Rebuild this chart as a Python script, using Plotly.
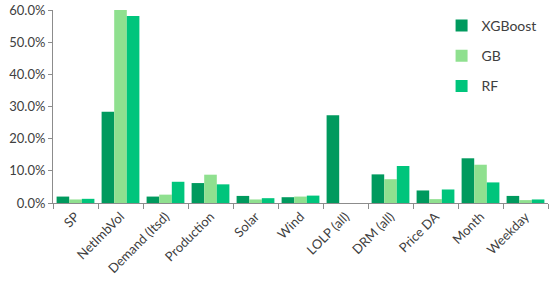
import plotly.graph_objects as go

categories = ["SP", "NetImbVol", "Demand (Itsd)", "Production", "Solar", "Wind",
              "LOLP (all)", "DRM (all)", "Price DA", "Month", "Weekday"]
xgboost = [2.0, 28.4, 2.0, 6.2, 2.2, 1.8, 27.3, 8.9, 3.9, 13.9, 2.2]
gb = [1.1, 60.2, 2.6, 8.8, 1.1, 2.0, 0.0, 7.4, 1.2, 11.9, 0.9]
rf = [1.3, 58.1, 6.6, 5.8, 1.5, 2.3, 0.0, 11.5, 4.2, 6.4, 1.1]
yticks = [0, 10, 20, 30, 40, 50, 60]
ytick_labels = ["0.0%", "10.0%", "20.0%", "30.0%", "40.0%", "50.0%", "60.0%"]

fig = go.Figure()
fig.add_trace(go.Bar(name="XGBoost", x=categories, y=xgboost, marker_color="#009A5E",
                     marker_line_width=0, legendgroup="a"))
fig.add_trace(go.Bar(name="GB", x=categories, y=gb, marker_color="#8FE08F",
                     marker_line_width=0, legendgroup="b"))
fig.add_trace(go.Bar(name="RF", x=categories, y=rf, marker_color="#00C57C",
                     marker_line_width=0, legendgroup="c"))

fig.update_layout(
    width=550, height=287,
    margin=dict(l=53, r=2, t=10, b=84),
    paper_bgcolor="white", plot_bgcolor="white",
    barmode="group", bargap=0.16, bargroupgap=0,
    font=dict(family="Lato, Open Sans, sans-serif", size=13, color="#404040"),
    legend=dict(x=0.785, y=1.0, xanchor="left", yanchor="top",
                bgcolor="rgba(0,0,0,0)", font=dict(size=14, color="#404040"),
                itemwidth=30, tracegroupgap=9, traceorder="grouped"),
    showlegend=True,
)
fig.update_xaxes(
    showline=True, linecolor="#8C8C8C", linewidth=1,
    ticks="outside", tickson="boundaries", ticklen=5, tickcolor="#8C8C8C",
    tickangle=-45, showgrid=False, automargin=False,
    tickfont=dict(size=13, color="#404040"),
)
fig.update_yaxes(
    range=[0, 60], tickvals=yticks, ticktext=ytick_labels,
    showline=True, linecolor="#8C8C8C", linewidth=1,
    ticks="outside", ticklen=4, tickcolor="#8C8C8C",
    showgrid=False, zeroline=False, automargin=False,
    tickfont=dict(size=13, color="#404040"),
)
fig.write_html("out.html", config={"displayModeBar": False},
               post_script="document.body.style.margin='0';document.body.style.overflow='hidden';")
